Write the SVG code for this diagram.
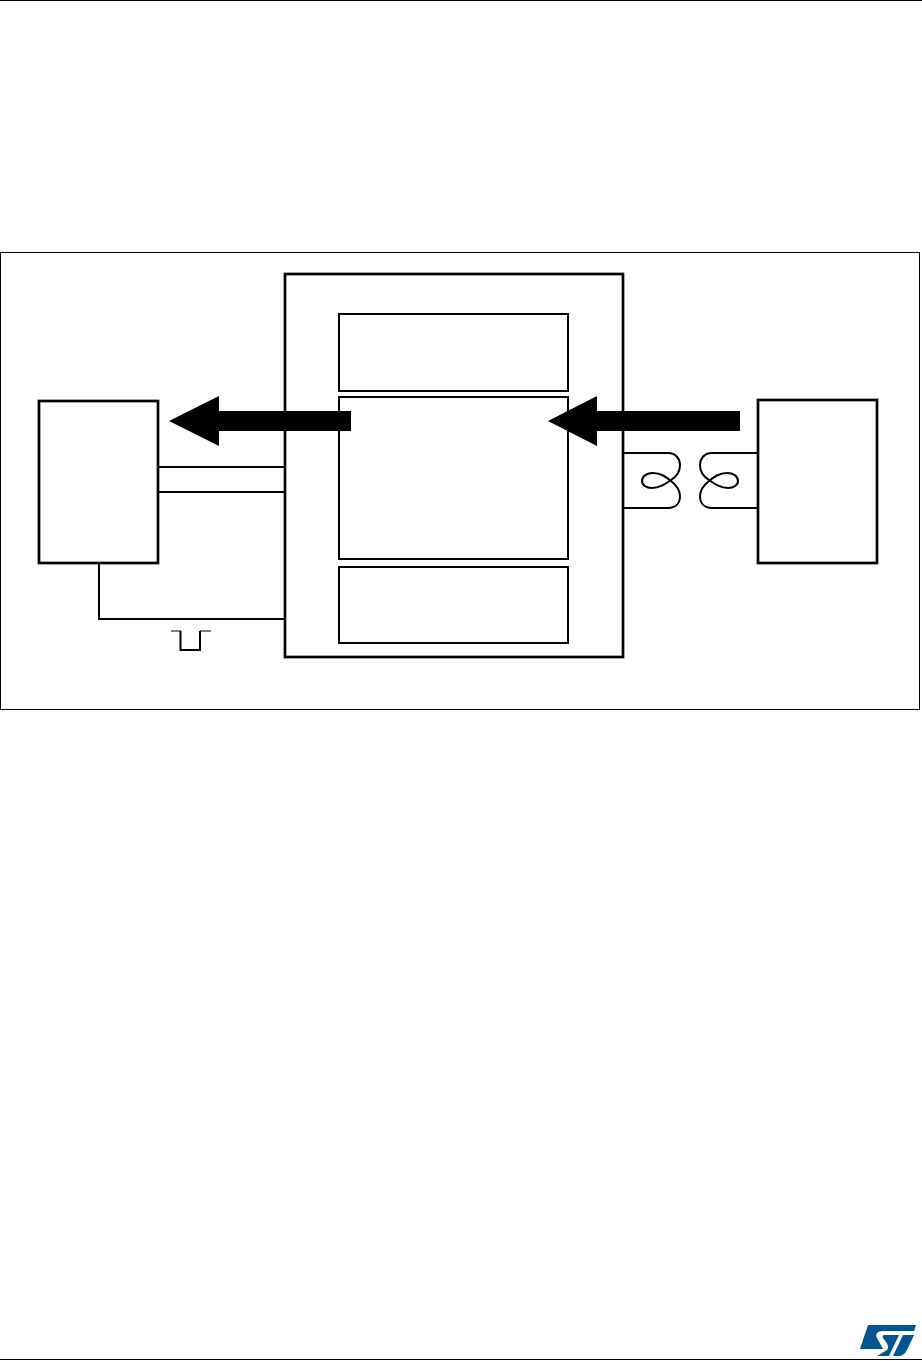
<svg xmlns="http://www.w3.org/2000/svg" width="922" height="1361" viewBox="0 0 922 1361">
<style>
.thick{fill:none;stroke:#000;stroke-width:2.7}
.med{fill:none;stroke:#000;stroke-width:2}
.thin{fill:none;stroke:#000;stroke-width:1}
.arrow{fill:#000}
.logo{fill:#03558f}
</style>
<rect width="922" height="1361" fill="#fff"/>
<g id="page-rules">
<line class="thin" x1="0" y1="0.5" x2="922" y2="0.5"/>
<line class="thin" x1="0" y1="1359.5" x2="922" y2="1359.5"/>
</g>
<g id="frame"><rect class="thin" x="0.5" y="252.5" width="919" height="457"/></g>
<g id="node-center"><rect class="thick" x="285" y="274" width="338" height="383"/></g>
<g id="node-top"><rect class="med" x="339" y="314" width="229" height="77"/></g>
<g id="node-middle"><rect class="med" x="339" y="397" width="229" height="162"/></g>
<g id="node-bottom"><rect class="med" x="339" y="567" width="229" height="76"/></g>
<g id="node-left"><rect class="thick" x="39" y="401" width="119" height="162"/></g>
<g id="node-right"><rect class="thick" x="758" y="400" width="119" height="163"/></g>
<g id="connectors">
<line class="med" x1="158" y1="467" x2="285" y2="467"/>
<line class="med" x1="158" y1="492" x2="285" y2="492"/>
<polyline class="med" points="99,563 99,619 285,619"/>
<polyline class="med" points="180.5,631 180.5,650 200,650 200,631"/>
<line class="thin" x1="171" y1="631" x2="181" y2="631"/>
<line class="thin" x1="200" y1="631" x2="211" y2="631"/>
<path id="twist-left" class="med" d="M623 453H668C676 453 680 459 680 465C680 472 676 477 671 480C665 484 660 488 652 488C646 488 642 485 642 481C642 476 647 473 653 473C661 473 666 477 671 481C676 485 680 490 680 496C680 503 676 508 668 508H623"/>
<path id="twist-right" class="med" d="M757 453H712C704 453 700 459 700 465C700 472 704 477 709 480C715 484 720 488 728 488C734 488 738 485 738 481C738 476 733 473 727 473C719 473 714 477 709 481C704 485 700 490 700 496C700 503 704 508 712 508H757"/>
<polygon class="arrow" points="169,421 219,396 219,411 351,411 351,431 219,431 219,446"/>
<polygon class="arrow" points="548,421 597,396 597,411 740,411 740,431 597,431 597,446"/>
</g>
<g id="st-logo">
<path class="logo" d="M868 1325H916L914 1331H882C877 1331 875 1335 877 1338L883 1349H860Z"/>
<path class="logo" d="M884 1335H899L889 1356H877L887 1350C889 1348 888 1345 886 1342L883 1338C882 1336 883 1335 884 1335Z"/>
<path class="logo" d="M903 1335H914L907 1350C905 1354 902 1356 898 1356H893Z"/>
</g>
</svg>
